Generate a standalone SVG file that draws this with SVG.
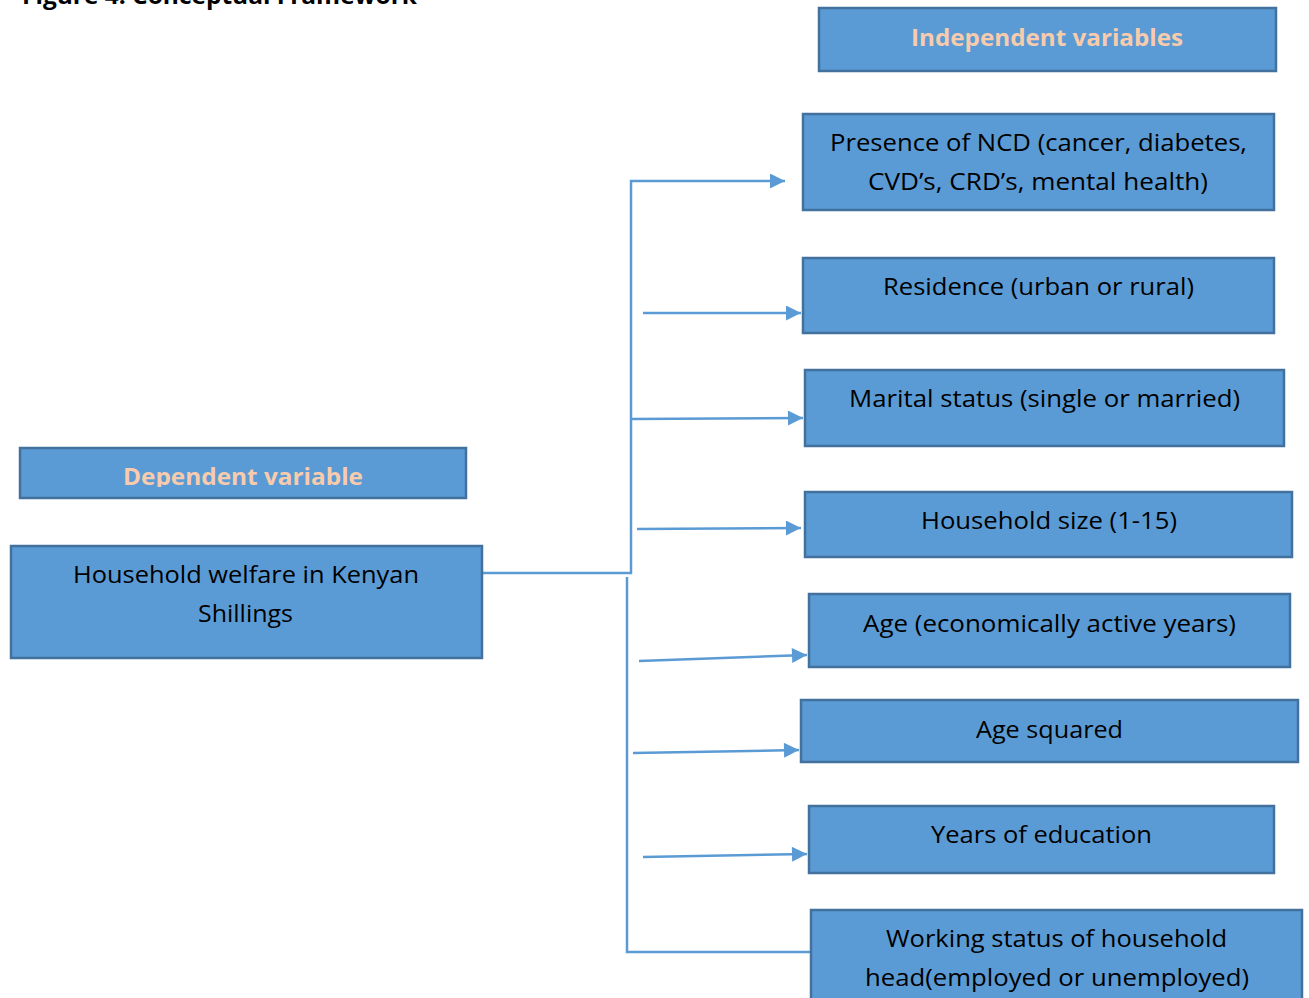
<svg xmlns="http://www.w3.org/2000/svg" width="1309" height="998" viewBox="0 0 1309 998">
<style>
.box{fill:#5B9BD5;stroke:#41719C;stroke-width:2.5}
.t{font-family:"Open Sans","Noto Sans","Liberation Sans",sans-serif;font-size:23px;fill:#000;text-anchor:middle}
.h{font-family:"Open Sans","Noto Sans","Liberation Sans",sans-serif;font-size:23px;font-weight:bold;fill:#F8CBAD;text-anchor:middle}
.c{fill:none;stroke:#5B9BD5;stroke-width:2.5}
</style>
<defs>
<marker id="ah" viewBox="0 0 10 10" refX="10" refY="5" markerWidth="6.4" markerHeight="6" markerUnits="strokeWidth" orient="auto">
<path d="M0,0 L10,5 L0,10 z" fill="#5B9BD5"/>
</marker>
<clipPath id="depclip"><rect x="0" y="440" width="500" height="47"/></clipPath>
</defs>
<rect width="1309" height="998" fill="#fff"/>
<text x="219.5" y="4" font-family="'Open Sans','Noto Sans','Liberation Sans',sans-serif" font-size="23" font-weight="bold" text-anchor="middle" textLength="395" lengthAdjust="spacingAndGlyphs">Figure 4: Conceptual Framework</text>
<g id="connectors">
<polyline class="c" points="482,573 631,573 631,181 785,181" marker-end="url(#ah)"/>
<line class="c" x1="643" y1="313" x2="801" y2="313" marker-end="url(#ah)"/>
<line class="c" x1="631" y1="419" x2="803" y2="418" marker-end="url(#ah)"/>
<line class="c" x1="637" y1="529" x2="801" y2="528" marker-end="url(#ah)"/>
<line class="c" x1="639" y1="661" x2="807" y2="655" marker-end="url(#ah)"/>
<line class="c" x1="633" y1="753" x2="799" y2="750" marker-end="url(#ah)"/>
<line class="c" x1="643" y1="857" x2="807" y2="854" marker-end="url(#ah)"/>
<polyline class="c" points="627,577 627,952 811,952"/>
</g>
<g id="independent-header">
<rect class="box" x="819" y="8" width="457" height="63"/>
<text class="h" x="1047" y="46" textLength="272" lengthAdjust="spacingAndGlyphs">Independent variables</text>
</g>
<g id="ncd">
<rect class="box" x="803" y="114" width="471" height="96"/>
<text class="t" x="1038.5" y="151" textLength="417" lengthAdjust="spacingAndGlyphs">Presence of NCD (cancer, diabetes,</text>
<text class="t" x="1038" y="190" textLength="340" lengthAdjust="spacingAndGlyphs">CVD’s, CRD’s, mental health)</text>
</g>
<g id="residence">
<rect class="box" x="803" y="258" width="471" height="75"/>
<text class="t" x="1038.5" y="295" textLength="311" lengthAdjust="spacingAndGlyphs">Residence (urban or rural)</text>
</g>
<g id="marital">
<rect class="box" x="805" y="370" width="479" height="76"/>
<text class="t" x="1044.5" y="407" textLength="391" lengthAdjust="spacingAndGlyphs">Marital status (single or married)</text>
</g>
<g id="hhsize">
<rect class="box" x="805" y="492" width="487" height="65"/>
<text class="t" x="1049" y="529" textLength="256" lengthAdjust="spacingAndGlyphs">Household size (1-15)</text>
</g>
<g id="age">
<rect class="box" x="809" y="594" width="481" height="73"/>
<text class="t" x="1049.5" y="632" textLength="373" lengthAdjust="spacingAndGlyphs">Age (economically active years)</text>
</g>
<g id="agesq">
<rect class="box" x="801" y="700" width="497" height="62"/>
<text class="t" x="1049.5" y="738" textLength="147" lengthAdjust="spacingAndGlyphs">Age squared</text>
</g>
<g id="education">
<rect class="box" x="809" y="806" width="465" height="67"/>
<text class="t" x="1041.5" y="843" textLength="221" lengthAdjust="spacingAndGlyphs">Years of education</text>
</g>
<g id="working">
<rect class="box" x="811" y="910" width="491" height="100"/>
<text class="t" x="1056.5" y="947" textLength="341" lengthAdjust="spacingAndGlyphs">Working status of household</text>
<text class="t" x="1057" y="986" textLength="384" lengthAdjust="spacingAndGlyphs">head(employed or unemployed)</text>
</g>
<g id="dependent-header">
<rect class="box" x="20" y="448" width="446" height="50"/>
<text class="h" x="243" y="485" textLength="240" lengthAdjust="spacingAndGlyphs" clip-path="url(#depclip)">Dependent variable</text>
</g>
<g id="welfare">
<rect class="box" x="11" y="546" width="471" height="112"/>
<text class="t" x="246" y="583" textLength="346" lengthAdjust="spacingAndGlyphs">Household welfare in Kenyan</text>
<text class="t" x="245.5" y="622" textLength="95" lengthAdjust="spacingAndGlyphs">Shillings</text>
</g>
</svg>
